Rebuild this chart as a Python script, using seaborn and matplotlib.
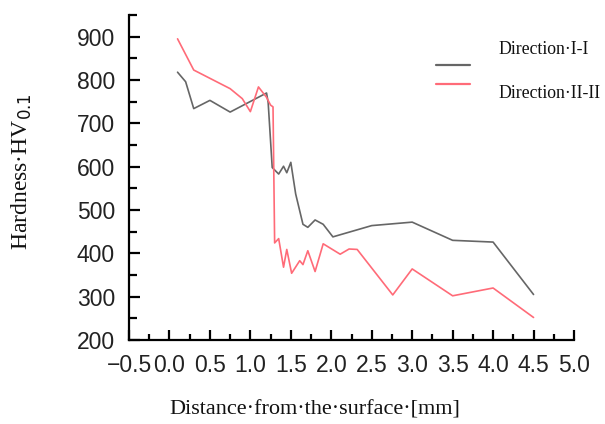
import matplotlib
matplotlib.use("Agg")
import matplotlib.pyplot as plt
import seaborn as sns
import pandas as pd
from matplotlib.ticker import MultipleLocator
from matplotlib.lines import Line2D

# Data
dist_1 = [0.1, 0.2, 0.3, 0.5, 0.75, 1.2, 1.22, 1.27, 1.35, 1.41, 1.45, 1.5, 1.56,
          1.65, 1.71, 1.8, 1.9, 2.02, 2.5, 2.75, 3.0, 3.5, 4.0, 4.5]
hard_1 = [818, 796, 734, 753, 726, 770, 748, 598, 583, 601, 586, 610, 537,
          467, 460, 477, 467, 438, 464, 468, 472, 430, 426, 305]

dist_2 = [0.1, 0.3, 0.75, 0.9, 1.0, 1.1, 1.2, 1.25, 1.28, 1.30, 1.35, 1.41, 1.45,
          1.51, 1.61, 1.65, 1.71, 1.8, 1.9, 2.11, 2.22, 2.32, 2.76, 3.0, 3.5, 4.0, 4.5]
hard_2 = [895, 823, 780, 757, 727, 784, 760, 742, 738, 424, 434, 368, 409,
          354, 383, 374, 406, 358, 422, 398, 410, 409, 304, 364, 302, 320, 252]

labels = ["Direction·I-I", "Direction·II-II"]
colors = ["#666666", "#ff6b78"]

df = pd.concat([
    pd.DataFrame({"x": dist_1, "y": hard_1, "series": labels[0]}),
    pd.DataFrame({"x": dist_2, "y": hard_2, "series": labels[1]}),
])

sns.set_theme(style="white")
plt.rcParams["font.family"] = ["Liberation Sans", "DejaVu Sans"]
plt.rcParams["xtick.direction"] = "in"
plt.rcParams["ytick.direction"] = "in"
plt.rcParams["xtick.bottom"] = True
plt.rcParams["ytick.left"] = True

fig = plt.figure(figsize=(6.05, 4.24), dpi=100)
ax = fig.add_axes([129 / 605, 1 - 340 / 424, (574 - 129) / 605, (340 - 15) / 424])

sns.lineplot(data=df, x="x", y="y", hue="series", palette=colors, sort=False,
             estimator=None, linewidth=1.2, legend=False, ax=ax)

ax.set_xlim(-0.5, 5.0)
ax.set_ylim(200, 950)
ax.set_yticks([200, 300, 400, 500, 600, 700, 800, 900])
ax.set_xticks([-0.5, 0, 0.5, 1.0, 1.5, 2.0, 2.5, 3.0, 3.5, 4.0, 4.5, 5.0])
ax.xaxis.set_minor_locator(MultipleLocator(0.25))
ax.yaxis.set_minor_locator(MultipleLocator(50))

for s in ["top", "right"]:
    ax.spines[s].set_visible(False)
for s in ["left", "bottom"]:
    ax.spines[s].set_color("black")
    ax.spines[s].set_linewidth(1.6)

ax.tick_params(axis="both", which="both", direction="in", color="black",
               labelcolor="#222222", labelsize=16.5, left=True, bottom=True)
ax.tick_params(axis="y", which="major", length=8, width=1.6, pad=10)
ax.tick_params(axis="y", which="minor", length=6, width=1.6)
ax.tick_params(axis="x", which="major", length=7, width=1.6, pad=10)
ax.tick_params(axis="x", which="minor", length=4, width=1.6)

ax.set_xlabel("")
ax.set_ylabel("")

serif = ["Liberation Serif", "DejaVu Serif"]
fig.text(315 / 605, 1 - 410 / 424, "Distance·from·the·surface·[mm]",
         ha="center", va="center", fontsize=16, family=serif, color="#111111")
fig.text(22 / 605, 1 - 172 / 424, "Hardness·HV$_{0.1}$", rotation=90,
         ha="center", va="center", fontsize=17, family=serif, color="#111111")

# legend: handles only, labels placed beside as in reference
handles = [Line2D([], [], color=c, linewidth=1.6) for c in colors]
leg = ax.legend(handles, ["", ""], loc="upper left",
                bbox_to_anchor=((430 - 129) / 445, (340 - 53) / 325),
                frameon=False, handlelength=2.5, labelspacing=0.35,
                fontsize=10, borderaxespad=0)
fig.text(498 / 605, 1 - 50 / 424, labels[0], ha="left", va="center",
         fontsize=12.8, family=serif, color="#111111")
fig.text(498 / 605, 1 - 94 / 424, labels[1], ha="left", va="center",
         fontsize=12.8, family=serif, color="#111111")

fig.savefig("out.png", dpi=100)
